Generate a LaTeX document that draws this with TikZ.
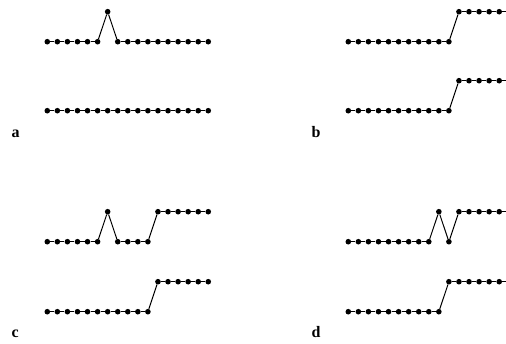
\documentclass[tikz,border=0pt]{standalone}
\usepackage{fontspec}
\setmainfont{Liberation Serif}
\usepackage{tikz}
\usetikzlibrary{positioning}
\tikzset{
  sdot/.style={circle, fill=black, draw=none, inner sep=0pt, minimum size=5.6pt},
  trace/.style={line width=1pt, black},
  plab/.style={anchor=base west, font=\fontsize{16}{18}\selectfont\bfseries, inner sep=0pt},
}
\def\dx{10.06}
\def\dy{30}
% one row of samples: name, x of first dot, baseline y, list of levels
\newcommand{\samplerow}[4]{%
  \foreach \lv [count=\i] in {#4} {
    \node[sdot] (#1-\i) at ({#2+(\i-1)*\dx},{#3-\lv*\dy}) {};
    \ifnum\i>1
      \pgfmathtruncatemacro{\prev}{\i-1}
      \draw[trace] (#1-\prev) -- (#1-\i);
    \fi
  }%
}

\begin{document}
\begin{tikzpicture}[x=1pt, y=-1pt]
  \useasboundingbox (0,0) rectangle (506,343);
  \clip (0,0) rectangle (506,343);
  % a
  \samplerow{aup}{47.3}{41.7}{0,0,0,0,0,0,1,0,0,0,0,0,0,0,0,0,0}
  \samplerow{alo}{47.3}{110.7}{0,0,0,0,0,0,0,0,0,0,0,0,0,0,0,0,0}
  \node[plab] (la) at (11.5,137.5) {a};
  % b
  \samplerow{bup}{348.3}{41.7}{0,0,0,0,0,0,0,0,0,0,0,1,1,1,1,1,1}
  \samplerow{blo}{348.3}{110.7}{0,0,0,0,0,0,0,0,0,0,0,1,1,1,1,1,1}
  \node[plab] (lb) at (311.5,137.5) {b};
  % c
  \samplerow{cup}{47.3}{241.7}{0,0,0,0,0,0,1,0,0,0,0,1,1,1,1,1,1}
  \samplerow{clo}{47.3}{311.7}{0,0,0,0,0,0,0,0,0,0,0,1,1,1,1,1,1}
  \node[plab] (lc) at (11.5,337.5) {c};
  % d
  \samplerow{dup}{348.3}{241.7}{0,0,0,0,0,0,0,0,0,1,0,1,1,1,1,1,1}
  \samplerow{dlo}{348.3}{311.7}{0,0,0,0,0,0,0,0,0,0,1,1,1,1,1,1,1}
  \node[plab] (ld) at (311.5,337.5) {d};
\end{tikzpicture}
\end{document}
